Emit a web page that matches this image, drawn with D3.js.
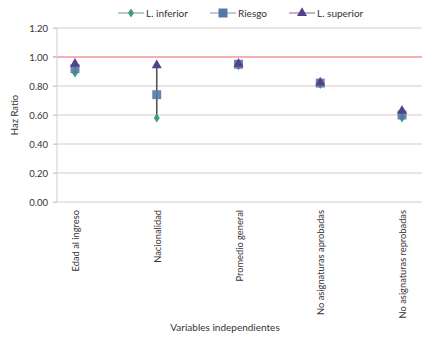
<!DOCTYPE html>
<html><head><meta charset="utf-8">
<script src="https://cdn.jsdelivr.net/npm/d3@7"></script>
<style>body{margin:0;background:#fff}svg{font-family:Lato,sans-serif}</style>
</head><body><svg id="c" width="435" height="340"></svg>
<script>
const categories = ["Edad al ingreso","Nacionalidad","Promedio general","No asignaturas aprobadas","No asignaturas reprobadas"];
const lowerValues = [0.89, 0.58, 0.94, 0.81, 0.58];
const riskValues = [0.92, 0.74, 0.95, 0.82, 0.60];
const upperValues = [0.96, 0.95, 0.96, 0.83, 0.635];
const yTicks = [0, 0.2, 0.4, 0.6, 0.8, 1.0, 1.2];
const seriesNames = ["L. inferior","Riesgo","L. superior"];

(function(){
const FONT = "Lato";
const svg = d3.select("#c");
const pLeft = 57, pRight = 422, pTop = 28, pBottom = 202;
const y = d3.scaleLinear().domain([0, 1.2]).range([pBottom, pTop]);
const x = d3.scalePoint().domain(categories).range([75, 402]);

// gridlines
svg.append("g").selectAll("line").data(yTicks.filter(d => d > 0)).join("line")
  .attr("x1", pLeft - 4).attr("x2", pRight)
  .attr("y1", d => y(d)).attr("y2", d => y(d))
  .attr("stroke", d => d === 1.0 ? "#e8606e" : "#d6caca").attr("stroke-width", 1);

// axes
const ya = svg.append("g").attr("transform", `translate(${pLeft},0)`)
  .call(d3.axisLeft(y).tickValues(yTicks).tickFormat(d3.format(".2f")).tickSize(4).tickPadding(5));
ya.select(".domain").attr("stroke", "#cfcfcf").attr("d", `M0,${pTop}V${pBottom}`);
ya.selectAll(".tick line").attr("stroke", "#cfcfcf");
ya.selectAll("text").attr("font-size", 9.5).attr("fill", "#333").attr("font-family", FONT);

const xa = svg.append("g").attr("transform", `translate(0,${pBottom})`)
  .call(d3.axisBottom(x).tickSize(0).tickPadding(0));
xa.select(".domain").attr("stroke", "#cfcfcf").attr("d", `M${pLeft - 4},0H${pRight}`);
xa.selectAll("text").attr("font-size", 9.3).attr("fill", "#333").attr("font-family", FONT)
  .attr("text-anchor", "end").attr("dy", null).attr("y", 0)
  .attr("transform", "translate(3.5,8) rotate(-90)");

// connecting lines
const data = categories.map((c, i) => ({c, lo: lowerValues[i], r: riskValues[i], up: upperValues[i]}));
svg.append("g").selectAll("line").data(data).join("line")
  .attr("x1", d => x(d.c)).attr("x2", d => x(d.c))
  .attr("y1", d => y(d.lo)).attr("y2", d => y(d.up))
  .attr("stroke", "#555").attr("stroke-width", 1.6);

const colors = {lo: "#3f9e7c", r: "#5479a6", up: "#583f8c"};
const diamond = d3.symbol().type(d3.symbolDiamond2).size(36);
const square = d3.symbol().type(d3.symbolSquare).size(80);
const tri = d3.symbol().type(d3.symbolTriangle).size(44);

svg.append("g").selectAll("path").data(data).join("path")
  .attr("d", diamond).attr("fill", colors.lo)
  .attr("transform", d => `translate(${x(d.c)},${y(d.lo)}) scale(0.8,1.2)`);
svg.append("g").selectAll("path").data(data).join("path")
  .attr("d", square).attr("fill", colors.r).attr("opacity", 0.9)
  .attr("transform", d => `translate(${x(d.c)},${y(d.r)})`);
svg.append("g").selectAll("path").data(data).join("path")
  .attr("d", tri).attr("fill", colors.up)
  .attr("transform", d => `translate(${x(d.c)},${y(d.up) + 1})`);

// legend
const leg = [
  {name: seriesNames[0], x: 118, col: "#6a9a80", sym: diamond, fill: colors.lo, sc: "scale(0.8,1.2)"},
  {name: seriesNames[1], x: 210, col: "#7d96b8", sym: square, fill: colors.r, sc: ""},
  {name: seriesNames[2], x: 289, col: "#7a6a98", sym: tri, fill: colors.up, sc: ""}
];
const lg = svg.append("g").selectAll("g").data(leg).join("g").attr("transform", d => `translate(${d.x},13)`);
lg.append("line").attr("x1", 0).attr("x2", 26).attr("stroke", d => d.col).attr("stroke-width", 1);
lg.append("path").attr("d", d => d.sym()).attr("fill", d => d.fill).attr("transform", d => `translate(13,0) ${d.sc}`);
lg.append("text").attr("x", 28).attr("dy", "0.35em").attr("font-size", 10).attr("fill", "#333").text(d => d.name);

// axis titles
svg.append("text").attr("transform", `translate(18,${(pTop + pBottom) / 2}) rotate(-90)`)
  .attr("text-anchor", "middle").attr("font-size", 9.5).attr("fill", "#333").text("Haz Ratio");
svg.append("text").attr("x", 225).attr("y", 331).attr("text-anchor", "middle")
  .attr("font-size", 10).attr("fill", "#333").text("Variables independientes");
})();
</script></body></html>
